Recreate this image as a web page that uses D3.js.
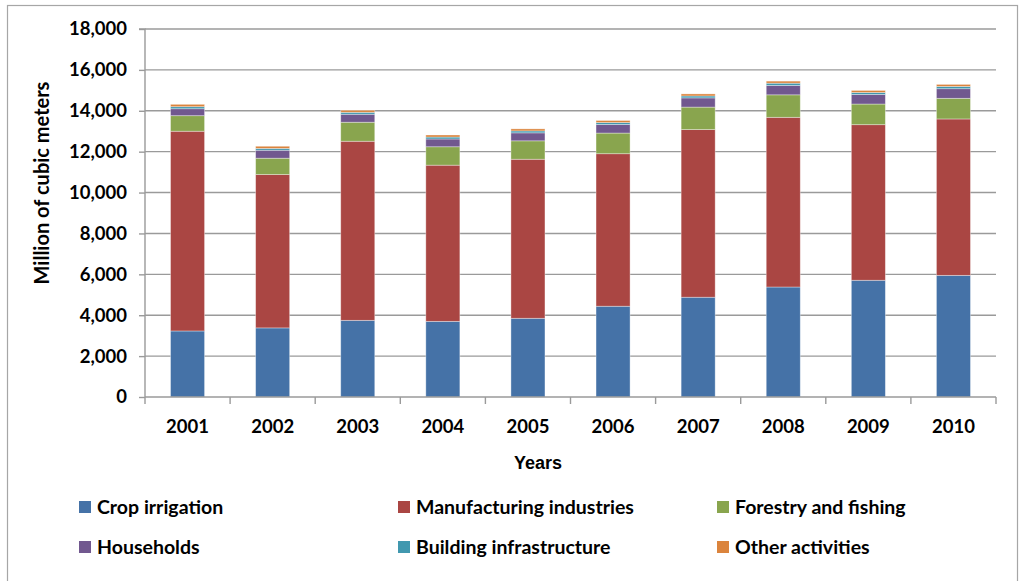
<!DOCTYPE html>
<html><head><meta charset="utf-8">
<script src="https://cdn.jsdelivr.net/npm/d3@7"></script>
<style>
html,body{margin:0;padding:0;background:#fff;}
svg{display:block;}
</style></head>
<body>
<svg id="chart" width="1019" height="581"></svg>
<script>
const years = ["2001","2002","2003","2004","2005","2006","2007","2008","2009","2010"];
const seriesNames = ["Crop irrigation","Manufacturing industries","Forestry and fishing","Households","Building infrastructure","Other activities"];
const seriesColors = ["#4572A7","#AA4643","#89A54E","#71588F","#4198AF","#DB843D"];
const cropIrrigation = [3230,3380,3750,3700,3850,4440,4880,5380,5710,5950];
const manufacturing = [9770,7500,8760,7640,7780,7460,8200,8300,7610,7650];
const forestryFishing = [760,800,930,900,900,1010,1100,1100,1010,1010];
const households = [340,390,390,380,390,420,450,460,470,470];
const building = [100,90,95,95,95,95,95,110,95,110];
const otherActivities = [115,105,100,100,100,100,100,100,100,100];
const yTicks = [0,2000,4000,6000,8000,10000,12000,14000,16000,18000];

const seriesValues = [cropIrrigation, manufacturing, forestryFishing, households, building, otherActivities];
const rows = years.map((yr,i)=>{
  const r = {year:yr};
  seriesNames.forEach((s,j)=>{ r[s] = seriesValues[j][i]; });
  return r;
});

const svg = d3.select("#chart");
const pLeft = 145, pRight = 996, pTop = 29, pBottom = 397;
const tickFont = "Lato, 'Open Sans', sans-serif";
const fw = 700;

// outer frame
svg.append("rect").attr("x",7.5).attr("y",5.5).attr("width",1010).attr("height",600)
  .attr("fill","#fff").attr("stroke","#a6a6a6").attr("stroke-width",1.2);

const x = d3.scaleBand().domain(years).range([pLeft,pRight]).paddingInner(0.6).paddingOuter(0.3);
const y = d3.scaleLinear().domain([0,18000]).range([pBottom,pTop]);

// gridlines
svg.append("g").selectAll("line").data(yTicks.filter(d=>d>0)).join("line")
  .attr("x1",pLeft).attr("x2",pRight)
  .attr("y1",d=>y(d)).attr("y2",d=>y(d))
  .attr("stroke","#9a9a9a").attr("stroke-width",1.4);

// stacked bars
const stack = d3.stack().keys(seriesNames)(rows);
svg.append("g").selectAll("g").data(stack).join("g")
  .attr("fill",(d,i)=>seriesColors[i])
  .selectAll("rect").data(d=>d).join("rect")
  .attr("x",d=>x(d.data.year))
  .attr("width",x.bandwidth())
  .attr("y",d=>y(d[1]))
  .attr("height",d=>y(d[0])-y(d[1]))
  .attr("stroke","rgba(255,255,255,0.45)").attr("stroke-width",0.8);

// y axis
const yAxis = d3.axisLeft(y).tickValues(yTicks).tickSize(6).tickPadding(12)
  .tickFormat(d3.format(","));
const gy = svg.append("g").attr("transform",`translate(${pLeft},0)`).call(yAxis);
gy.select(".domain").attr("stroke","#9a9a9a").attr("stroke-width",1.4).attr("d",`M-6,${pTop}H0V${pBottom}`);
gy.selectAll(".tick line").attr("stroke","#9a9a9a").attr("stroke-width",1.4);
gy.selectAll("text").attr("font-family",tickFont).attr("font-weight",fw)
  .attr("font-size","18.5px").attr("fill","#000");

// x axis (ticks between categories)
const gx = svg.append("g").attr("transform",`translate(0,${pBottom})`);
gx.append("line").attr("x1",pLeft).attr("x2",pRight).attr("stroke","#9a9a9a").attr("stroke-width",1.4);
const step = x.step();
const tickXs = d3.range(years.length+1).map(i=>x(years[0]) - (step - x.bandwidth())/2 + i*step);
gx.selectAll("line.tk").data(tickXs).join("line").attr("class","tk")
  .attr("x1",d=>d).attr("x2",d=>d)
  .attr("y1",0).attr("y2",7).attr("stroke","#9a9a9a").attr("stroke-width",1.4);
gx.selectAll("text").data(years).join("text")
  .attr("x",d=>x(d)+x.bandwidth()/2).attr("y",36)
  .attr("text-anchor","middle")
  .attr("font-family",tickFont).attr("font-weight",fw).attr("font-size","18.5px")
  .text(d=>d);

// axis titles
svg.append("text").attr("x",538).attr("y",469).attr("text-anchor","middle")
  .attr("font-family","'Liberation Sans', Arial, sans-serif").attr("font-weight",700)
  .attr("font-size","18px").text("Years");
svg.append("text").attr("transform","translate(49,183) rotate(-90)").attr("text-anchor","middle")
  .attr("font-family",tickFont).attr("font-weight",fw).attr("font-size","20px")
  .text("Million of cubic meters");

// legend
const legendPos = [[79,507],[398,507],[717,507],[79,547],[398,547],[717,547]];
const lg = svg.append("g").selectAll("g").data(seriesNames).join("g")
  .attr("transform",(d,i)=>`translate(${legendPos[i][0]},${legendPos[i][1]})`);
lg.append("rect").attr("x",0).attr("y",-6).attr("width",12).attr("height",12)
  .attr("fill",(d,i)=>seriesColors[i]);
lg.append("text").attr("x",18).attr("y",7)
  .attr("font-family",tickFont).attr("font-weight",fw).attr("font-size","19.5px")
  .text(d=>d);
</script>
</body></html>
